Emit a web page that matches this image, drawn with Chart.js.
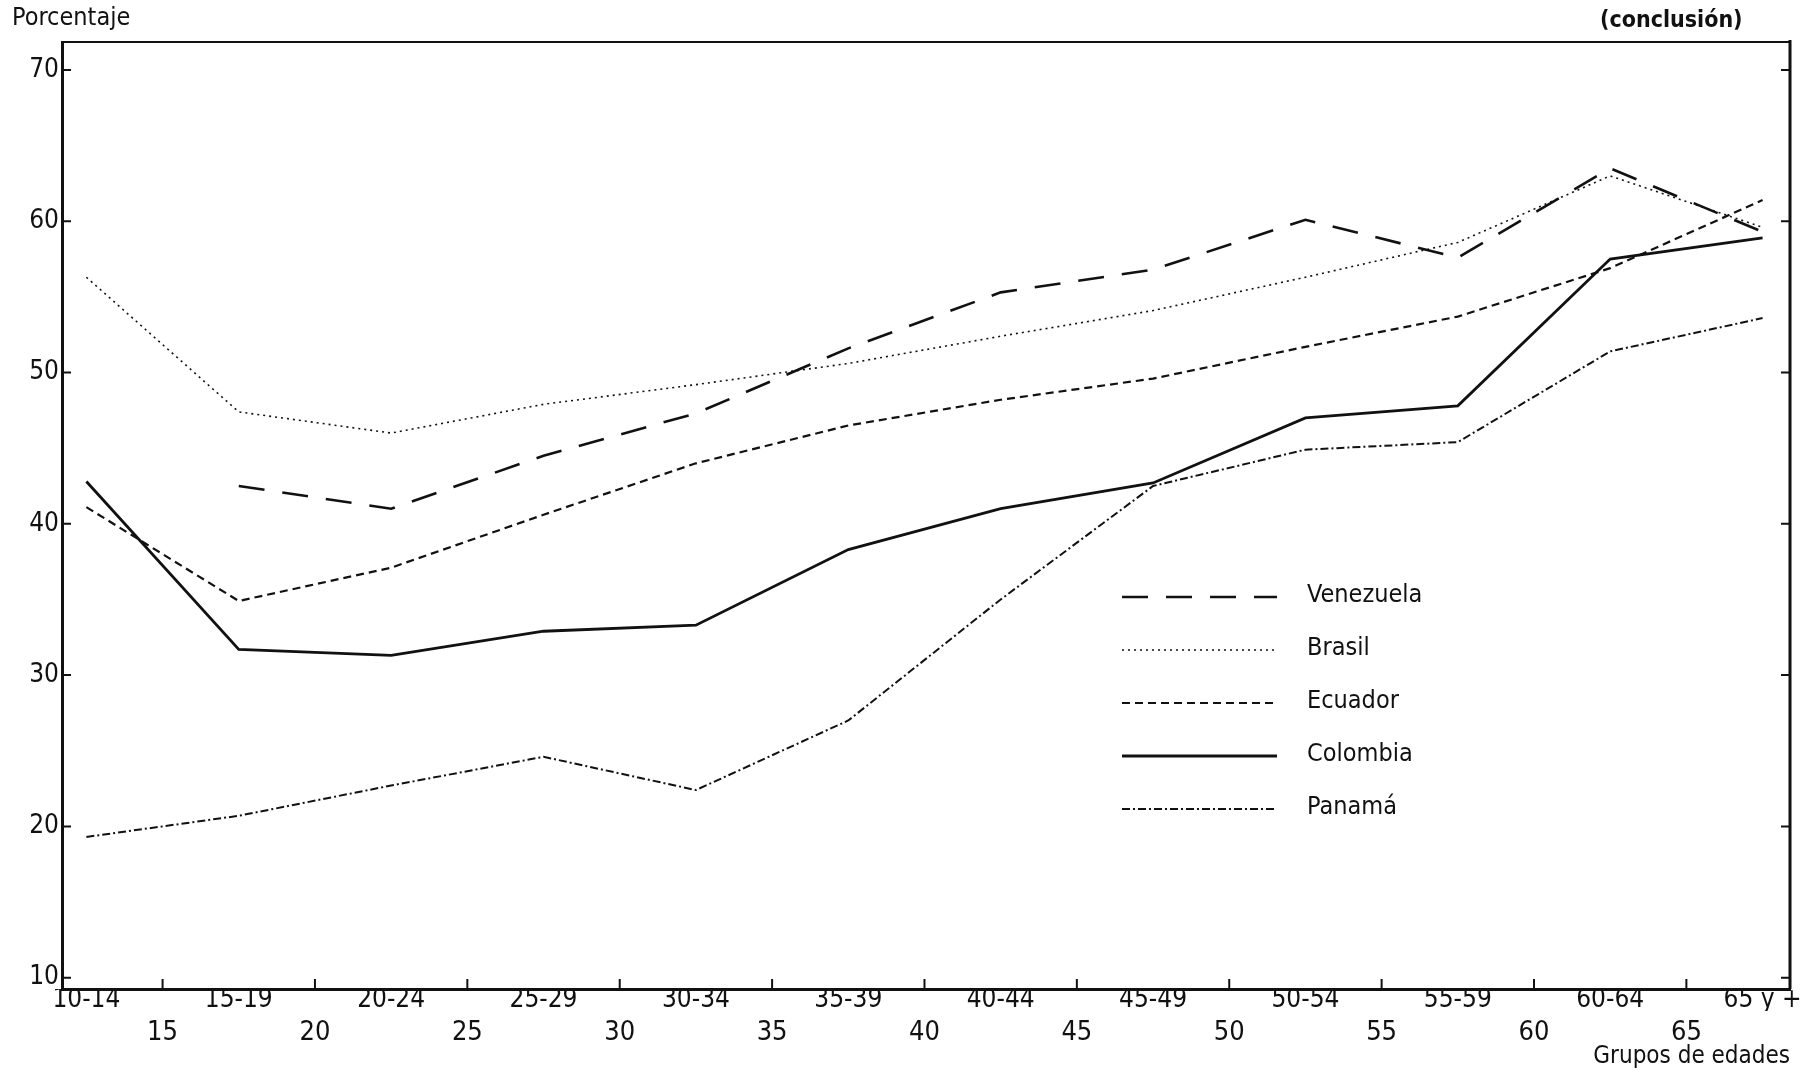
<!DOCTYPE html>
<html lang="es">
<head>
<meta charset="utf-8">
<title>Porcentaje por grupos de edades</title>
<script src="https://cdn.jsdelivr.net/npm/chart.js@4.4.1/dist/chart.umd.min.js"></script>
<style>
  html, body { margin: 0; padding: 0; background: #fff; }
  #wrap { width: 1818px; height: 1076px; position: relative; }
</style>
</head>
<body>
<div id="wrap"><canvas id="grafico"></canvas></div>
<script>
// grupos de edades y su centro sobre el eje de edades
const grupos = ["10-14", "15-19", "20-24", "25-29", "30-34", "35-39", "40-44", "45-49", "50-54", "55-59", "60-64", "65 y +"];
const centrosEdad = [12.5, 17.5, 22.5, 27.5, 32.5, 37.5, 42.5, 47.5, 52.5, 57.5, 62.5, 67.5];
const marcasEdad = [15, 20, 25, 30, 35, 40, 45, 50, 55, 60, 65];
const marcasPorcentaje = [10, 20, 30, 40, 50, 60, 70];

// porcentajes
const venezuela = [null, 42.5, 41.0, 44.5, 47.3, 51.6, 55.3, 56.8, 60.1, 57.6, 63.5, 59.3];
const brasil    = [56.3, 47.4, 46.0, 47.9, 49.2, 50.6, 52.4, 54.1, 56.3, 58.6, 63.0, 59.6];
const ecuador   = [41.1, 34.9, 37.1, 40.6, 44.0, 46.5, 48.2, 49.6, 51.7, 53.7, 56.9, 61.4];
const colombia  = [42.8, 31.7, 31.3, 32.9, 33.3, 38.3, 41.0, 42.7, 47.0, 47.8, 57.5, 58.9];
const panama    = [19.3, 20.7, 22.7, 24.6, 22.4, 27.0, 35.0, 42.5, 44.9, 45.4, 51.4, 53.6];

const FUENTE = "'Liberation Sans Narrow', 'DejaVu Sans Condensed', 'Arial Narrow', sans-serif";
const TINTA = "#111";

Chart.defaults.font.family = FUENTE;
Chart.defaults.color = TINTA;

const serie = (label, valores, estilo) => ({
  label,
  data: centrosEdad.map((x, i) => ({ x, y: valores[i] })),
  borderColor: TINTA,
  pointRadius: 0,
  tension: 0,
  fill: false,
  ...estilo
});

// marco, marcas interiores, textos sueltos y leyenda
const marco = {
  id: "marco",
  afterDraw(chart) {
    const { ctx, chartArea: a, scales } = chart;
    ctx.save();
    ctx.strokeStyle = TINTA;
    ctx.fillStyle = TINTA;

    ctx.lineWidth = 2;
    ctx.beginPath();
    ctx.moveTo(a.left, a.top);
    ctx.lineTo(a.right, a.top);
    ctx.stroke();
    ctx.lineWidth = 3;
    ctx.beginPath();
    ctx.moveTo(a.right, a.top - 2);
    ctx.lineTo(a.right, a.bottom);
    ctx.stroke();

    ctx.lineWidth = 2;
    marcasPorcentaje.forEach(v => {
      const py = scales.y.getPixelForValue(v);
      ctx.beginPath();
      ctx.moveTo(a.left, py); ctx.lineTo(a.left + 9, py);
      ctx.moveTo(a.right, py); ctx.lineTo(a.right - 9, py);
      ctx.stroke();
    });
    marcasEdad.forEach(v => {
      const px = scales.x.getPixelForValue(v);
      ctx.beginPath();
      ctx.moveTo(px, a.bottom); ctx.lineTo(px, a.bottom - 10);
      ctx.stroke();
    });

    ctx.textBaseline = "alphabetic";
    ctx.textAlign = "left";
    ctx.font = `25px ${FUENTE}`;
    ctx.fillText("Porcentaje", 12, 25);
    ctx.font = `bold 23px ${FUENTE}`;
    ctx.fillText("(conclusión)", 1600, 27);

    ctx.textBaseline = "middle";
    ctx.font = `25px ${FUENTE}`;
    chart.data.datasets.forEach((ds, i) => {
      const y = 597 + i * 53;
      ctx.lineWidth = ds.borderWidth;
      ctx.setLineDash(ds.borderDash || []);
      ctx.beginPath();
      ctx.moveTo(1122, y); ctx.lineTo(1277, y);
      ctx.stroke();
      ctx.setLineDash([]);
      ctx.fillText(ds.label, 1307, y - 2);
    });
    ctx.restore();
  }
};

new Chart(document.getElementById("grafico"), {
  type: "line",
  data: {
    datasets: [
      serie("Venezuela", venezuela, { borderWidth: 2.6, borderDash: [26, 18] }),
      serie("Brasil", brasil, { borderWidth: 1.6, borderDash: [2, 4] }),
      serie("Ecuador", ecuador, { borderWidth: 2.2, borderDash: [8, 5] }),
      serie("Colombia", colombia, { borderWidth: 2.8 }),
      serie("Panamá", panama, { borderWidth: 2, borderDash: [8, 3, 2, 3] })
    ]
  },
  options: {
    responsive: true,
    maintainAspectRatio: false,
    animation: false,
    layout: { padding: { top: 42, right: 28, left: 0, bottom: 0 } },
    plugins: {
      legend: { display: false },
      tooltip: { enabled: false }
    },
    scales: {
      xg: {
        type: "linear",
        position: "bottom",
        weight: 0,
        min: 11.7,
        max: 68.4,
        afterBuildTicks: s => { s.ticks = centrosEdad.map(v => ({ value: v })); },
        afterFit: s => { s.height = 22; },
        grid: { display: false, drawTicks: false },
        border: { display: true, color: TINTA, width: 3 },
        ticks: {
          autoSkip: false,
          maxRotation: 0,
          padding: 0,
          font: { size: 26, lineHeight: 0.9 },
          callback: (v, i) => grupos[i]
        }
      },
      x: {
        type: "linear",
        position: "bottom",
        weight: 1,
        min: 11.7,
        max: 68.4,
        afterBuildTicks: s => { s.ticks = marcasEdad.map(v => ({ value: v })); },
        afterFit: s => { s.height = 65; },
        grid: { display: false, drawTicks: false },
        border: { display: false },
        ticks: {
          autoSkip: false,
          maxRotation: 0,
          padding: 8,
          font: { size: 27, lineHeight: 1 },
          callback: v => String(v)
        },
        title: {
          display: true,
          text: "Grupos de edades",
          align: "end",
          font: { size: 24, lineHeight: 1.2 },
          padding: { top: 0, bottom: 5 }
        }
      },
      y: {
        type: "linear",
        position: "left",
        min: 9.25,
        max: 71.85,
        afterBuildTicks: s => { s.ticks = marcasPorcentaje.map(v => ({ value: v })); },
        afterFit: s => { s.width = 62; },
        grid: { display: false, drawTicks: false },
        border: { display: true, color: TINTA, width: 3 },
        ticks: { padding: 3, font: { size: 26 } }
      }
    }
  },
  plugins: [marco]
});
</script>
</body>
</html>
